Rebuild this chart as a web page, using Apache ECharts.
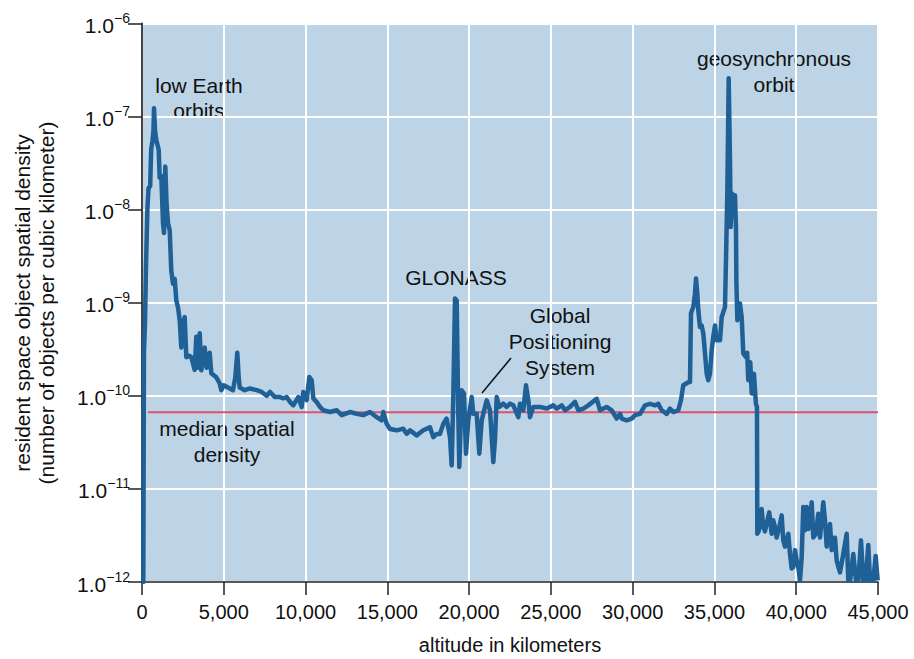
<!DOCTYPE html>
<html>
<head>
<meta charset="utf-8">
<script src="https://cdn.jsdelivr.net/npm/echarts@6/dist/echarts.min.js"></script>
<style>
html,body{margin:0;padding:0;background:#fff;}
#c{width:914px;height:659px;}
</style>
</head>
<body>
<div id="c"></div>
<script>
// altitude in km
const altitude = [0,80,120,183,245,330,400,500,560,640,700,734,800,874,1021,1082,1180,1284,1345,1425,1500,1590,1694,1791,1895,2000,2097,2201,2305,2403,2507,2611,2709,2900,3014,3222,3320,3424,3528,3626,3833,3950,4139,4237,4543,4751,4848,5000,5258,5564,5704,5827,5912,5973,6279,6603,7012,7318,7624,7826,8132,8437,8639,8847,9049,9250,9556,9764,9862,10070,10229,10375,10474,10681,10883,11085,11494,11904,12210,12717,13127,13530,13940,14350,14655,14753,14961,15163,15572,15976,16184,16386,16795,17199,17608,17810,18017,18220,18421,18625,18831,18934,19033,19137,19240,19338,19400,19546,19687,19810,19950,20158,20256,20462,20623,20770,20971,21075,21277,21479,21583,21687,21846,22090,22296,22500,22703,23007,23110,23313,23478,23620,23722,23924,24333,24743,25151,25355,25661,25862,26168,26474,26676,26982,27287,27801,28003,28206,28410,28716,29024,29228,29330,29635,29941,30143,30448,30754,31060,31363,31567,31775,32081,32282,32484,32790,32950,33095,33400,33505,33566,33707,33811,33872,33952,34013,34116,34216,34318,34526,34623,34728,34832,34929,35033,35137,35339,35443,35645,35706,35786,35871,35951,35994,36073,36153,36256,36317,36340,36400,36560,36666,36764,36929,37000,37070,37190,37278,37415,37537,37600,37620,37700,37886,37984,38090,38192,38351,38498,38596,38700,38804,39006,39110,39208,39312,39514,39619,39723,39820,39925,40029,40127,40231,40334,40432,40537,40640,40738,40843,40945,41044,41200,41350,41453,41655,41759,41863,42065,42169,42370,42474,42676,42878,43086,43183,43300,43489,43654,43800,43960,44100,44250,44406,44510,44712,44858,44980];
// objects per cubic km
const density = [1e-12,1e-12,3e-10,6e-10,2.5e-9,1.0e-8,1.7e-8,1.8e-8,4.4e-8,5.5e-8,7e-8,1.23e-7,7e-8,5.6e-8,4.4e-8,2.2e-8,2.3e-8,7.2e-9,5.6e-9,2.9e-8,1.2e-8,7.2e-9,6.0e-9,2.2e-9,1.6e-9,1.8e-9,1.06e-9,8.9e-10,6.5e-10,3.3e-10,6e-10,7e-10,2.6e-10,2.7e-10,2.6e-10,1.9e-10,4.3e-10,2.0e-10,4.7e-10,1.88e-10,3.3e-10,2.0e-10,2.9e-10,1.75e-10,1.58e-10,1.36e-10,1.15e-10,1.3e-10,1.23e-10,1.15e-10,1.58e-10,2.9e-10,1.58e-10,1.23e-10,1.15e-10,1.2e-10,1.15e-10,1.1e-10,1.0e-10,1.1e-10,9.7e-11,9.7e-11,9.4e-11,9.7e-11,8.6e-11,7.9e-11,9.7e-11,7.6e-11,1.1e-10,9e-11,1.59e-10,1.47e-10,9.4e-11,8.6e-11,7.6e-11,7e-11,6.7e-11,7e-11,6.2e-11,6.7e-11,6.4e-11,6.2e-11,6.7e-11,5.9e-11,5.45e-11,6.7e-11,5.0e-11,4.4e-11,4.26e-11,4.44e-11,3.9e-11,4.26e-11,3.76e-11,4.26e-11,4.6e-11,3.6e-11,3.9e-11,3.9e-11,5.0e-11,5.7e-11,3.6e-11,1.79e-11,9.7e-11,1.11e-9,1.06e-9,6.4e-11,1.72e-11,1.15e-10,1.06e-10,2.39e-11,5.45e-11,9.7e-11,6.4e-11,6.4e-11,2.39e-11,5.45e-11,7.6e-11,8.95e-11,6.98e-11,1.94e-11,3.4e-11,9.7e-11,7.6e-11,8.24e-11,7.6e-11,8.24e-11,7.9e-11,5.9e-11,8.2e-11,7e-11,1.3e-10,8.95e-11,5.9e-11,7.6e-11,7.6e-11,7.3e-11,7.9e-11,7.3e-11,7.9e-11,7e-11,7.6e-11,8.6e-11,7e-11,7.3e-11,7.9e-11,9.3e-11,7e-11,7.3e-11,7.6e-11,7e-11,5.7e-11,6.4e-11,5.7e-11,5.45e-11,5.7e-11,6.2e-11,6.4e-11,7.9e-11,8.2e-11,7.9e-11,8.2e-11,7e-11,6.4e-11,7.3e-11,6.7e-11,7e-11,8.95e-11,1.3e-10,1.4e-10,1.41e-10,7.7e-10,9e-10,1.26e-9,1.82e-9,1.26e-9,8.3e-10,5.5e-10,5.7e-10,4.7e-10,1.73e-10,1.47e-10,1.73e-10,3.1e-10,4.3e-10,5.7e-10,3.95e-10,3.95e-10,7.0e-10,9e-10,2.86e-9,1.49e-8,2.58e-7,3.4e-8,6.5e-9,1.49e-8,1.17e-8,1.43e-8,6.5e-9,1.75e-9,6.5e-10,9.8e-10,7e-10,2.86e-10,2.61e-10,2.9e-10,1.47e-10,2.3e-10,1.06e-10,1.73e-10,8.2e-11,7.6e-11,3.3e-12,3.5e-12,6.1e-12,3.9e-12,3.5e-12,4.2e-12,5.6e-12,3.3e-12,4.6e-12,3.9e-12,3.0e-12,4.2e-12,5.2e-12,2.8e-12,2.4e-12,3.3e-12,2.0e-12,1.4e-12,1.45e-12,2.2e-12,1.7e-12,1.44e-12,1.04e-12,1.85e-12,6.4e-12,3.6e-12,6.4e-12,3.7e-12,4.6e-12,7.2e-12,3.0e-12,3.3e-12,5.4e-12,3.0e-12,7.2e-12,4.6e-12,2.4e-12,4.2e-12,2.2e-12,3.0e-12,1.7e-12,1.27e-12,2.0e-12,3.3e-12,1.04e-12,1.05e-12,2.0e-12,1.04e-12,1.04e-12,2.8e-12,1.04e-12,1.04e-12,2.5e-12,1.04e-12,1.04e-12,1.9e-12,1.04e-12];
const medianDensity = 6.65e-11;
const medianRange = [370, 45000];
const yMin = 1e-12, yMax = 1e-6;

const FONT = '"Liberation Sans", Arial, sans-serif';
const chart = echarts.init(document.getElementById('c'), null, {renderer: 'svg'});

const option = {
  animation: false,
  backgroundColor: '#ffffff',
  grid: {left: 142, right: 36, top: 23.5, bottom: 77, show: true, backgroundColor: '#bcd4e5', borderWidth: 0,
         containLabel: false, outerBoundsMode: 'none'},
  xAxis: {
    type: 'value', min: 0, max: 45000, interval: 5000,
    name: 'altitude in kilometers', nameLocation: 'middle', nameGap: 53,
    nameTextStyle: {fontFamily: FONT, fontSize: 20, color: '#111'},
    axisLine: {lineStyle: {color: '#222', width: 1.5}},
    axisTick: {show: true, length: 13, lineStyle: {color: '#222', width: 1.5}},
    axisLabel: {fontFamily: FONT, fontSize: 20, color: '#111', margin: 20,
      formatter: v => v.toLocaleString('en-US')},
    splitLine: {show: true, lineStyle: {color: '#ffffff', width: 2}}
  },
  yAxis: {
    type: 'log', logBase: 10, min: yMin, max: yMax, splitNumber: 6,
    axisLine: {show: true, lineStyle: {color: '#444', width: 2}},
    axisTick: {show: true, length: 14, lineStyle: {color: '#222', width: 1.5}},
    axisLabel: {
      margin: 12,
      formatter: v => '{b|1.0}{s|\u2212' + Math.abs(Math.round(Math.log10(v))) + '}',
      rich: {
        b: {fontFamily: FONT, fontSize: 21, color: '#111', verticalAlign: 'bottom'},
        s: {fontFamily: FONT, fontSize: 14, color: '#111', verticalAlign: 'top', padding: [0,0,11,0]}
      }
    },
    splitLine: {show: true, lineStyle: {color: '#ffffff', width: 2}}
  },
  series: [
    {
      type: 'line', name: 'median',
      data: medianRange.map(a => [a, medianDensity]),
      showSymbol: false, silent: true,
      lineStyle: {color: '#e3506c', width: 2}, z: 3
    },
    {
      type: 'line', name: 'density',
      data: altitude.map((a, i) => [a, density[i]]),
      showSymbol: false, clip: true,
      lineStyle: {color: '#1f6096', width: 4.5, join: 'round'}, z: 4
    }
  ],
  graphic: [
    {type: 'text', x: 22, y: 303, rotation: Math.PI/2,
     style: {text: 'resident space object spatial density', font: '21px ' + FONT, fill: '#111', textAlign: 'center', textVerticalAlign: 'middle'}},
    {type: 'text', x: 46, y: 303, rotation: Math.PI/2,
     style: {text: '(number of objects per cubic kilometer)', font: '21px ' + FONT, fill: '#111', textAlign: 'center', textVerticalAlign: 'middle'}},
    {type: 'text', x: 199, y: 98, style: {text: 'low Earth\norbits', font: '21px ' + FONT, lineHeight: 25, fill: '#111', textAlign: 'center', textVerticalAlign: 'middle'}},
    {type: 'text', x: 456, y: 277, style: {text: 'GLONASS', font: '21px ' + FONT, fill: '#111', textAlign: 'center', textVerticalAlign: 'middle'}},
    {type: 'text', x: 560, y: 341, style: {text: 'Global\nPositioning\nSystem', font: '21px ' + FONT, lineHeight: 26, fill: '#111', textAlign: 'center', textVerticalAlign: 'middle'}},
    {type: 'line', shape: {x1: 511, y1: 358, x2: 482, y2: 393}, style: {stroke: '#111', lineWidth: 1.5}},
    {type: 'text', x: 227, y: 441, style: {text: 'median spatial\ndensity', font: '21px ' + FONT, lineHeight: 26, fill: '#111', textAlign: 'center', textVerticalAlign: 'middle'}},
    {type: 'text', x: 774, y: 71, style: {text: 'geosynchronous\norbit', font: '21px ' + FONT, lineHeight: 26, fill: '#111', textAlign: 'center', textVerticalAlign: 'middle'}}
  ]
};
chart.setOption(option);
</script>
</body>
</html>
